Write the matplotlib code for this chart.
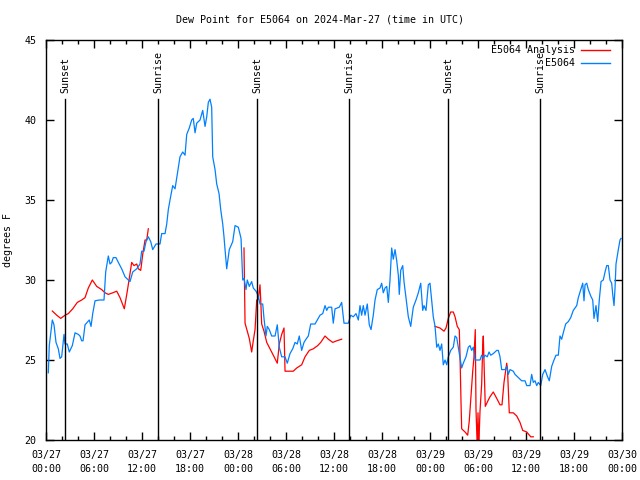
import numpy as np
import matplotlib
matplotlib.use("Agg")
import matplotlib.pyplot as plt

# hours since 2024-03-27 00:00 UTC
station_hours = [0.29, 0.41, 0.79, 1.0, 1.25, 1.54, 1.75, 1.96, 2.25, 2.38, 2.66, 2.91, 3.29, 3.63,
                 4.04, 4.25, 4.46, 4.63, 4.88, 5.41, 5.63, 5.84, 6.13, 6.66, 7.25, 7.46, 7.79, 8.0,
                 8.21, 8.41, 8.75, 9.04, 9.46, 9.88, 10.29, 10.5, 10.84, 11.34, 11.75, 11.96, 12.25,
                 12.5, 12.79, 13.09, 13.34, 13.75, 14.25, 14.46, 14.88, 15.09, 15.29, 15.5, 15.84,
                 16.13, 16.41, 16.75, 17.09, 17.38, 17.59, 17.91, 18.21, 18.41, 18.63, 18.84, 19.25,
                 19.59, 19.88, 20.09, 20.29, 20.5, 20.71, 20.84, 21.13, 21.34, 21.63, 21.84, 22.09,
                 22.25, 22.38, 22.59, 22.91, 23.34, 23.63, 24.04, 24.38, 24.59, 24.75, 25.0, 25.16,
                 25.41, 25.71, 25.91, 26.25, 26.54, 26.75, 27.09, 27.25, 27.5, 27.66, 27.91, 28.21,
                 28.63, 28.91, 29.16, 29.46, 29.88, 30.16, 30.5, 30.84, 31.13, 31.41, 31.66, 31.96,
                 32.25, 32.5, 32.79, 33.09, 33.63, 33.91, 34.25, 34.59, 34.88, 35.09, 35.29, 35.71,
                 35.91, 36.13, 36.66, 36.96, 37.25, 37.79, 38.09, 38.41, 38.75, 39.04, 39.25, 39.46,
                 39.66, 39.88, 40.16, 40.41, 40.63, 40.91, 41.13, 41.41, 41.75, 41.96, 42.16, 42.38,
                 42.59, 42.79, 43.0, 43.21, 43.41, 43.63, 43.84, 44.04, 44.16, 44.34, 44.59, 44.75,
                 45.0, 45.29, 45.59, 45.91, 46.25, 46.54, 46.84, 47.09, 47.25, 47.5, 47.79, 48.0,
                 48.21, 48.41, 48.63, 48.84, 49.04, 49.25, 49.46, 49.66, 49.88, 50.09, 50.29, 50.59,
                 50.91, 51.13, 51.34, 51.66, 51.96, 52.16, 52.5, 52.79, 53.0, 53.21, 53.41, 53.63,
                 54.25, 54.46, 54.66, 54.88, 55.16, 55.38, 55.59, 55.91, 56.34, 56.54, 56.75, 56.96,
                 57.38, 57.59, 57.79, 58.0, 58.41, 58.63, 59.04, 59.46, 59.88, 60.09, 60.5, 60.71,
                 60.91, 61.13, 61.34, 61.54, 61.84, 62.09, 62.38, 62.66, 62.91, 63.21, 63.5, 63.75,
                 64.04, 64.25, 64.46, 64.66, 64.96, 65.29, 65.59, 65.91, 66.34, 66.54, 66.84, 67.09,
                 67.25, 67.38, 67.59, 67.79, 68.09, 68.34, 68.5, 68.75, 68.96, 69.16, 69.38, 69.66,
                 69.88, 70.09, 70.29, 70.5, 70.71, 70.84, 71.0, 71.13, 71.25, 71.54, 71.75, 71.88]
station_dewpt = [24.2, 25.9, 27.5, 27.2, 26.1, 25.7, 25.1, 25.2, 26.6, 26.0, 26.0, 25.5, 25.9, 26.7,
                 26.6, 26.5, 26.2, 26.2, 27.2, 27.5, 27.1, 27.9, 28.7, 28.75, 28.75, 30.5, 31.5, 31.0,
                 31.1, 31.4, 31.4, 31.1, 30.7, 30.2, 30.0, 29.9, 30.5, 30.7, 31.0, 31.8, 31.8,
                 32.4, 32.7, 32.4, 31.9, 32.25, 32.25, 32.9, 32.9, 33.5, 34.4, 35.0, 35.9,
                 35.7, 36.6, 37.7, 38.0, 37.8, 39.1, 39.5, 40.0, 40.1, 39.2, 39.8, 40.0,
                 40.6, 39.6, 40.2, 41.1, 41.3, 40.8, 37.7, 36.9, 36.0, 35.4, 34.4, 33.5,
                 32.7, 31.9, 30.7, 31.9, 32.4, 33.4, 33.3, 32.6, 30.0, 30.1, 29.4, 30.0,
                 29.6, 29.9, 29.5, 29.3, 29.0, 28.5, 28.5, 27.6, 26.5, 27.1, 26.9, 26.5,
                 26.5, 27.2, 25.8, 25.2, 25.2, 24.8, 25.4, 25.7, 26.1, 26.0, 26.5, 25.6,
                 26.1, 26.3, 26.5, 27.25, 27.25, 27.5, 27.8, 27.9, 28.4, 28.1, 28.3, 28.3,
                 27.3, 28.2, 28.3, 28.6, 27.3, 27.3, 27.8, 27.7, 27.9, 27.5, 28.4, 27.8,
                 28.4, 27.8, 28.5, 27.2, 26.9, 27.8, 28.75, 29.4, 29.5, 29.8, 29.2, 29.5,
                 29.6, 28.6, 30.0, 32.0, 31.3, 31.9, 31.2, 30.3, 29.1, 30.6, 30.9, 29.9,
                 28.9, 27.7, 27.1, 28.3, 28.75, 29.2, 29.8, 28.1, 28.4, 28.1, 29.7, 29.8,
                 28.75, 27.7, 27.1, 25.8, 26.0, 25.6, 26.0, 24.7, 25.0, 24.7, 25.2, 25.6,
                 25.8, 26.5, 26.4, 25.4, 24.5, 24.8, 25.2, 25.8, 25.9, 25.6, 25.8, 25.0,
                 25.0, 25.3, 25.1, 25.3, 25.2, 25.5, 25.3, 25.4, 25.6, 25.6, 25.2, 24.4,
                 24.4, 24.6, 24.1, 24.4, 24.3, 24.1, 23.9, 23.7, 23.7, 23.4, 23.4, 24.1,
                 23.6, 23.7, 23.4, 23.6, 23.4, 24.1, 24.4, 24.0, 23.7, 24.6, 25.0, 25.3,
                 25.3, 26.5, 26.3, 26.7, 27.25, 27.4, 27.65, 28.1, 28.4, 28.9, 29.4, 29.8,
                 28.7, 29.7, 29.8, 29.4, 29.0, 28.75, 27.6, 28.4, 27.4, 28.75, 29.9, 30.0,
                 30.5, 30.9, 30.9, 30.0, 29.8, 29.1, 28.4, 29.5, 31.0, 31.9, 32.5, 32.6]

nan = float("nan")
analysis_hours = [0.79, 1.34, 1.84, 2.38, 2.79, 3.34, 3.91, 4.46, 4.88, 5.29, 5.79, 6.34, 6.96, 7.38,
                  7.79, 8.34, 8.84, 9.25, 9.79, 10.16, 10.41, 10.71, 11.0, 11.34, 11.54, 11.84,
                  12.09, 12.38, 12.59, 12.79, 18.0,
                  24.75, 24.88, 25.16, 25.41, 25.71, 25.91, 26.13, 26.34, 26.54, 26.75, 26.84,
                  26.96, 27.25, 27.59, 28.0, 28.41, 28.91, 29.16, 29.46, 29.75, 29.88, 30.91,
                  31.34, 31.96, 32.38, 32.91, 33.41, 33.96, 34.34, 34.88, 35.29, 35.84, 36.34,
                  36.96, 42.0,
                  48.63, 49.25, 49.75, 50.0, 50.29, 50.59, 50.91, 51.13, 51.41, 51.66, 51.75,
                  51.88, 51.96, 52.38, 52.71, 52.91, 53.09, 53.34, 53.5, 53.66, 53.75, 53.91,
                  54.0, 54.09, 54.25, 54.46, 54.59, 54.66, 54.79, 54.91, 55.29, 55.5, 55.91,
                  56.34, 56.75, 57.0, 57.25, 57.59, 57.69, 57.91, 58.41, 58.84, 59.25, 59.59,
                  60.09, 60.59, 60.91]
analysis_dewpt = [28.06, 27.8, 27.6, 27.8, 27.9, 28.2, 28.6, 28.75, 28.9, 29.5, 30.0, 29.6, 29.4, 29.2,
                  29.1, 29.2, 29.3, 28.9, 28.2, 29.3, 30.1, 31.1, 30.9, 31.0, 30.7, 30.6,
                  31.6, 32.5, 32.5, 33.2, nan,
                  32.0, 27.3, 26.8, 26.35, 25.5, 26.2, 26.9, 28.75, 28.8, 29.7, 28.75,
                  27.25, 26.8, 26.1, 25.7, 25.3, 24.8, 26.0, 26.6, 27.0, 24.3, 24.3,
                  24.5, 24.7, 25.2, 25.6, 25.7, 25.9, 26.1, 26.5, 26.3, 26.1, 26.2,
                  26.3, nan,
                  27.1, 27.0, 26.8, 27.0, 27.6, 28.0, 28.0, 27.7, 27.1, 26.9, 25.3,
                  22.3, 20.7, 20.5, 20.3, 21.2, 22.5, 24.3, 25.2, 26.9, 21.9, 19.5,
                  21.7, 19.5, 21.8, 23.5, 25.9, 26.5, 24.2, 22.1, 22.5, 22.7, 23.0,
                  22.6, 22.2, 22.2, 23.6, 24.8, 24.4, 21.7, 21.7, 21.5, 21.1, 20.6,
                  20.5, 20.2, 20.2]

sun_hours = [2.41, 14.04, 26.42, 37.92, 50.29, 61.79]
sun_labels = ["Sunset", "Sunrise", "Sunset", "Sunrise", "Sunset", "Sunrise"]

tick_hours = list(range(0, 73, 6))
tick_labels = ["03/27\n00:00", "03/27\n06:00", "03/27\n12:00", "03/27\n18:00",
               "03/28\n00:00", "03/28\n06:00", "03/28\n12:00", "03/28\n18:00",
               "03/29\n00:00", "03/29\n06:00", "03/29\n12:00", "03/29\n18:00",
               "03/30\n00:00"]

plt.rcParams["font.family"] = "DejaVu Sans Mono"
plt.rcParams["font.size"] = 7.2

fig = plt.figure(figsize=(6.4, 4.8), dpi=100)
ax = fig.add_axes([46 / 640, 40 / 480, 576 / 640, 400 / 480])

red = "#ff0000"
blue = "#0080ff"
ax.plot(analysis_hours, analysis_dewpt, color=red, lw=0.9)
ax.plot(station_hours, station_dewpt, color=blue, lw=0.9)

for h, lab in zip(sun_hours, sun_labels):
    ax.plot([h, h], [20, 41.3], color="black", lw=1)
    ax.text(h, 41.7, lab, rotation=90, ha="center", va="bottom")

ax.set_xlim(0, 72)
ax.set_ylim(20, 45)
ax.set_xticks(tick_hours)
ax.set_xticklabels(tick_labels, linespacing=1.5)
ax.set_xticks(range(0, 73, 2), minor=True)
ax.set_yticks(range(20, 46, 5))
ax.tick_params(which="both", direction="in", top=True, right=True, width=1)
ax.tick_params(which="major", length=6, pad=7)
ax.tick_params(which="minor", length=3)
for s in ax.spines.values():
    s.set_linewidth(1)

ax.set_ylabel("degrees F", labelpad=8)
fig.text(0.5, 1 - 20 / 480, "Dew Point for E5064 on 2024-Mar-27 (time in UTC)",
         ha="center", va="center")

# key in the top right corner
for i, (name, c) in enumerate([("E5064 Analysis", red), ("E5064", blue)]):
    y = 1 - (10 + 13 * i) / 400
    ax.text(529 / 576, y, name, transform=ax.transAxes, ha="right", va="center")
    ax.plot([535 / 576, 564 / 576], [y, y], color=c, lw=1, transform=ax.transAxes)

fig.savefig("out.png", dpi=100)
